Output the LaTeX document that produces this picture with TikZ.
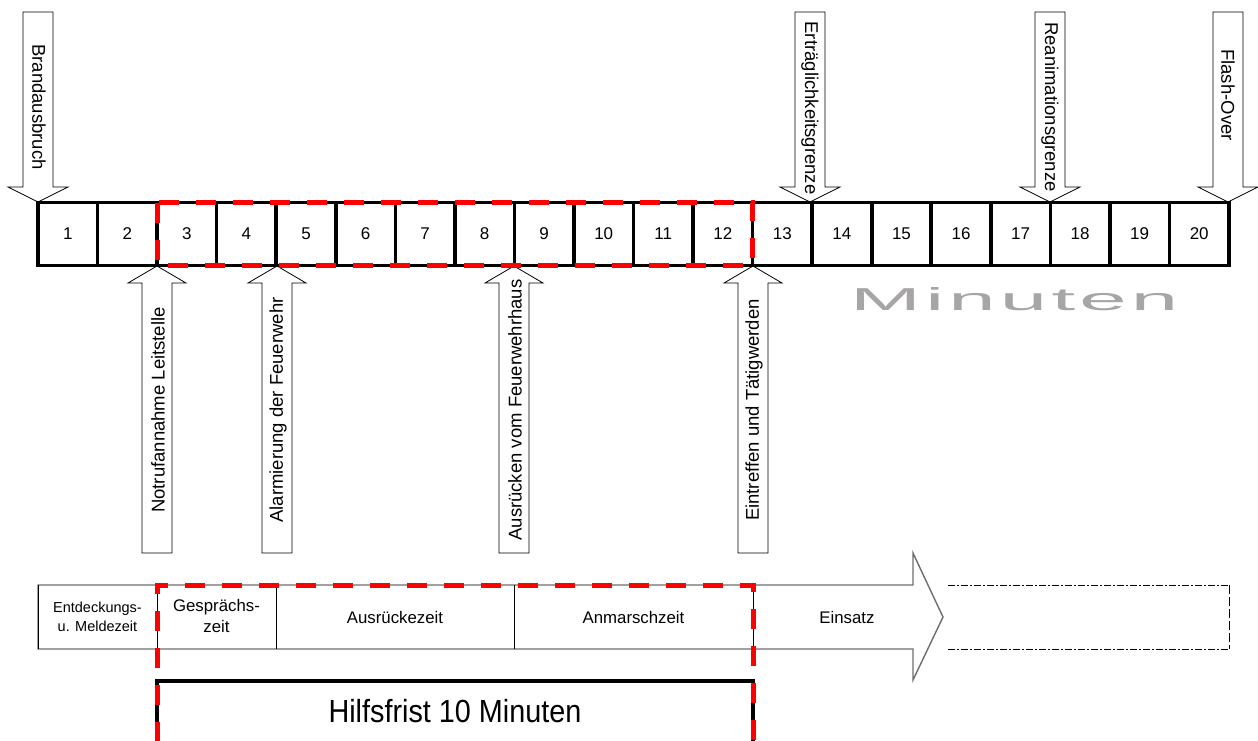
\documentclass[tikz,border=0pt]{standalone}
\usepackage{fontspec}
\setmainfont{Liberation Sans}
\usepackage{graphicx}
\definecolor{mingray}{RGB}{168,165,165}
\definecolor{bandline}{RGB}{110,110,110}
\newcommand\dnarrowshape[3]{% tip x, tip y, top y
  \draw[blockarrow] ({#1-15},#3) -- ({#1+15},#3) -- ({#1+15},{#2-15}) -- ({#1+30},{#2-15}) -- (#1,#2) -- ({#1-30},{#2-15}) -- ({#1-15},{#2-15}) -- cycle;}
\newcommand\uparrowshape[3]{% tip x, tip y, bottom y
  \draw[blockarrow] ({#1-15},#3) -- ({#1+15},#3) -- ({#1+15},{#2+17}) -- ({#1+29},{#2+17}) -- (#1,#2) -- ({#1-29},{#2+17}) -- ({#1-15},{#2+17}) -- cycle;}
\begin{document}
\begin{tikzpicture}[x=1pt,y=-1pt,
  blockarrow/.style={draw=black,fill=white,line width=0.8pt,line join=miter},
  cell/.style={draw=black,line width=3.6pt,minimum width=59.55pt,minimum height=63pt,inner sep=0pt,outer sep=0pt,font=\fontsize{17}{19}\selectfont},
  toplabel/.style={rotate=-90,font=\fontsize{18.5}{20}\selectfont,inner sep=0pt},
  botlabel/.style={rotate=90,font=\fontsize{18.5}{20}\selectfont,inner sep=0pt},
  bandtext/.style={align=center,inner sep=0pt,font=\fontsize{16.8}{21}\selectfont},
  reddash/.style={draw=red,line width=5pt,dash pattern=on 20pt off 17pt},
  bracket/.style={draw=black,line width=4pt,line cap=butt,line join=miter}]
\useasboundingbox (0,0) rectangle (1258,740);
% top arrows
\dnarrowshape{38}{202}{12}
\node[toplabel] (lbrand) at (39,107) {Brandausbruch};
\dnarrowshape{810}{202}{12}
\node[toplabel] (lertr) at (810,108) {Erträglichkeitsgrenze};
\dnarrowshape{1050}{202}{12}
\node[toplabel] (lrean) at (1050,107) {Reanimationsgrenze};
\dnarrowshape{1228}{202}{12}
\node[toplabel] (lflash) at (1228,95) {Flash-Over};
% bottom arrows
\uparrowshape{157}{266}{553}
\node[botlabel] (lnotruf) at (158,410) {Notrufannahme Leitstelle};
\uparrowshape{277}{266}{553}
\node[botlabel] (lalarm) at (278,410) {Alarmierung der Feuerwehr};
\uparrowshape{514}{266}{553}
\node[botlabel] (lausr) at (515,410) {Ausrücken vom Feuerwehrhaus};
\uparrowshape{753}{266}{553}
\node[botlabel] (lein) at (754,410) {Eintreffen und Tätigwerden};
% timeline cells
\foreach \i in {1,...,20}{
  \node[cell] (b\i) at ({38+(\i-0.5)*59.55},234) {\i};
}
\draw[reddash] (b3.north west) rectangle (b12.south east);
% Minuten
\node[inner sep=0pt,anchor=south west,text=mingray] (minuten) at (850,311)
  {\resizebox{328pt}{23pt}{\addfontfeature{LetterSpace=5}Minuten}};
% bottom band
\draw[draw=bandline,line width=1.4pt,fill=white,line join=miter] (38,585) -- (913,585) -- (913,553) -- (943,617) -- (913,680) -- (913,649) -- (38,649) -- cycle;
\draw[black,line width=0.8pt] (157,585) -- (157,649) (276,585) -- (276,649) (514,585) -- (514,649) (753,585) -- (753,649);
\draw[black,line width=0.8pt] (38,585) -- (38,649);
\node[bandtext,font=\fontsize{14.5}{19}\selectfont] (t1) at (97.5,617) {Entdeckungs-\\u. Meldezeit};
\node[bandtext] (t2) at (216.5,616) {Gesprächs-\\zeit};
\node[bandtext] (t3) at (395,617) {Ausrückezeit};
\node[bandtext] (t4) at (633.5,617) {Anmarschzeit};
\node[bandtext] (t5) at (847,617) {Einsatz};
% dash-dot continuation
\draw[black,line width=0.8pt,dash pattern=on 7pt off 2pt on 2pt off 2pt] (948,585) -- (1229,585);
\draw[black,line width=0.8pt,dash pattern=on 7pt off 2pt on 2pt off 2pt] (948,649) -- (1229,649);
\draw[black,line width=0.8pt,dash pattern=on 9pt off 3pt] (1229,585) -- (1229,649);
% Hilfsfrist bracket
\draw[bracket] (157,742) -- (157,681) -- (753,681) -- (753,742);
\draw[reddash] (157,742) -- (157,585) -- (753,585) -- (753,742);
\node[inner sep=0pt] (hilfs) at (455,711) {\scalebox{0.9}[1]{\fontsize{32}{34}\selectfont Hilfsfrist 10 Minuten}};
\end{tikzpicture}
\end{document}
